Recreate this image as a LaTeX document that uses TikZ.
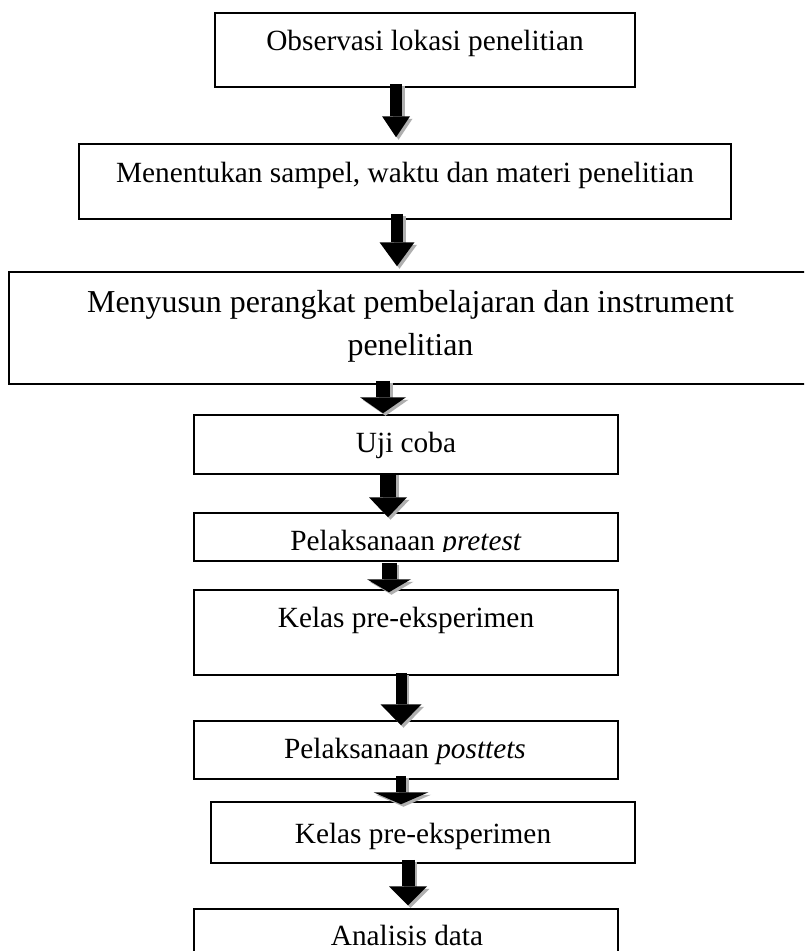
\documentclass[tikz,border=0pt]{standalone}
\usepackage{fontspec}
\setmainfont{Liberation Serif}
\usetikzlibrary{arrows.meta,calc}
\definecolor{shadowgray}{RGB}{175,175,175}
\tikzset{
  box/.style n args={2}{draw=black, line width=1.5pt, inner sep=0pt, minimum width=#1, minimum height=#2},
  txt/.style={font=\fontsize{29.3}{35}\selectfont, inner sep=0pt, anchor=base},
  bigtxt/.style={font=\fontsize{31.9}{40}\selectfont, inner sep=0pt, anchor=base},
  barrow/.style n args={3}{line width=#1, -{Triangle[width=#2, length=#3, line width=0pt]}},
}
\newcommand\flowarrow[9]{%
  \draw[barrow={#7}{#8}{#9}, draw=shadowgray] ($(#1)+(#2+2.5,#3+2.5)$) -- ($(#4)+(#5+2.5,#6+2.5)$);
  \draw[barrow={#7}{#8}{#9}, draw=black] ($(#1)+(#2,#3)$) -- ($(#4)+(#5,#6)$);
}
\begin{document}
\begin{tikzpicture}[x=1pt,y=-1pt]
\useasboundingbox (0,0) rectangle (804,951);
\clip (0,0) rectangle (804,951);
\fill[white] (0,0) rectangle (804,951);

% boxes
\node[box={420pt}{74pt}]  (b1) at (425,50) {};
\node[box={652pt}{75pt}]  (b2) at (405,181.5) {};
\node[box={803pt}{112pt}] (b3) at (410.5,328) {};
\node[box={424pt}{59pt}]  (b4) at (406,444.5) {};
\node[box={424pt}{48pt}]  (b5) at (406,537) {};
\node[box={424pt}{85pt}]  (b6) at (406,632.5) {};
\node[box={424pt}{58pt}]  (b7) at (406,750) {};
\node[box={424pt}{61pt}]  (b8) at (423,832.5) {};
\node[box={424pt}{66pt}]  (b9) at (406,942) {};

% texts
\node[txt] (t1) at (425,50) {Observasi lokasi penelitian};
\node[txt] (t2) at (405,182) {Menentukan sampel, waktu dan materi penelitian};
\node[bigtxt] (t3a) at (410.5,312) {Menyusun perangkat pembelajaran dan instrument};
\node[bigtxt] (t3b) at (410.5,355) {penelitian};
\node[txt] (t4) at (406,452) {Uji coba};
\begin{scope}
  \clip (0,0) rectangle (804,551);
  \node[txt] (t5) at (406,550) {Pelaksanaan \textit{pretest}};
\end{scope}
\node[txt] (t6) at (406,627) {Kelas pre-eksperimen};
\node[txt] (t7) at (405,758) {Pelaksanaan \textit{posttets}};
\node[txt] (t8) at (423,843) {Kelas pre-eksperimen};
\node[txt] (t9) at (407,945) {Analisis data};

% block arrows
\flowarrow{b1.south}{-29}{-4}{b2.north}{-9}{-6}{12pt}{28pt}{21pt}
\flowarrow{b2.south}{-8}{-6}{b3.north}{-13.5}{-5}{12pt}{35pt}{24pt}
\flowarrow{b3.south}{-27.5}{-4}{b4.north}{-23}{-1}{14pt}{46pt}{16pt}
\flowarrow{b4.south}{-18}{-2}{b5.north}{-18}{5}{16pt}{38pt}{20pt}
\flowarrow{b5.south}{-17}{1}{b6.north}{-17}{3}{15pt}{44pt}{13pt}
\flowarrow{b6.south}{-5}{-3}{b7.north}{-5}{5}{11pt}{41pt}{21pt}
\flowarrow{b7.south}{-5}{-4}{b8.north}{-22}{3}{10pt}{55pt}{12pt}
\flowarrow{b8.south}{-15}{-4}{b9.north}{2}{-3}{13pt}{38pt}{19pt}
\end{tikzpicture}
\end{document}
